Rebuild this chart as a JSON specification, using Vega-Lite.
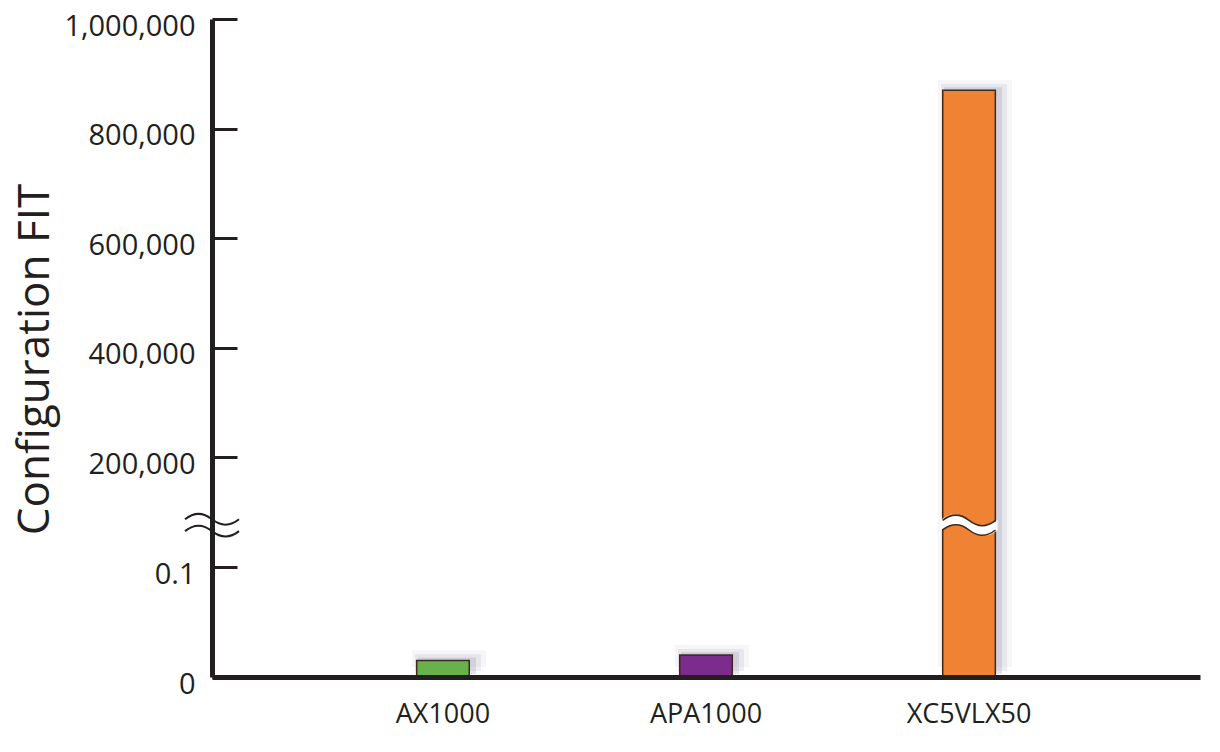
{
  "$schema": "https://vega.github.io/schema/vega-lite/v6.json",
  "width": 988,
  "height": 658,
  "autosize": {"type": "none"},
  "padding": {"left": 212, "top": 19, "right": 20, "bottom": 75},
  "background": "white",
  "config": {"view": {"stroke": null}, "font": "Open Sans"},
  "datasets": {
    "bars": [
      {"device": "AX1000", "fit": 0.015},
      {"device": "APA1000", "fit": 0.02},
      {"device": "XC5VLX50", "fit": 870000}
    ],
    "barbreak": [{"device": "XC5VLX50", "fit": 76000}],
    "axisbreak": [{"fit": 76000}]
  },
  "data": {"name": "bars"},
  "encoding": {
    "x": {
      "field": "device", "type": "nominal", "sort": null,
      "scale": {"paddingInner": 0.8, "paddingOuter": 0.778},
      "axis": {
        "title": null, "ticks": false, "labelAngle": 0, "labelFontSize": 27,
        "labelColor": "#231f20", "labelPadding": 24, "domainColor": "#231f20",
        "domainWidth": 5, "zindex": 1, "labelFont": "Open Sans"
      }
    },
    "y": {
      "field": "fit", "type": "quantitative",
      "scale": {"domain": [0, 0.1, 200000, 1000000], "range": [658, 548, 438, 0], "nice": false, "zero": false},
      "title": "Configuration FIT",
      "axis": {
        "values": [0, 0.1, 200000, 400000, 600000, 800000, 1000000],
        "labelExpr": "datum.value == 0.1 ? '0.1' : format(datum.value, ',d')",
        "grid": false,
        "tickSize": -25, "tickWidth": 3, "tickColor": "#231f20",
        "domainWidth": 5, "domainColor": "#231f20",
        "labelFontSize": 29, "labelColor": "#231f20", "labelPadding": 42, "labelOffset": 7,
        "labelFlush": false, "labelOverlap": false, "labelFont": "Open Sans",
        "titleFontSize": 44, "titleFontWeight": "normal", "titleColor": "#231f20", "titleFont": "Open Sans",
        "titleX": -164, "titleY": 340, "titleAngle": -90, "titleAlign": "center", "titleBaseline": "alphabetic",
        "zindex": 0
      }
    }
  },
  "layer": [
    {"mark": {"type": "bar", "size": 74, "color": "#8a8aa6", "opacity": 0.08, "xOffset": 6, "yOffset": -10}},
    {"mark": {"type": "bar", "size": 66, "color": "#8a8aa6", "opacity": 0.14, "xOffset": 5, "yOffset": -6}},
    {"mark": {"type": "bar", "size": 58, "color": "#8a8aa6", "opacity": 0.22, "xOffset": 4, "yOffset": -3}},
    {
      "mark": {"type": "bar", "stroke": "#3b2a1e", "strokeWidth": 1.5},
      "encoding": {
        "color": {
          "field": "device", "type": "nominal", "legend": null,
          "scale": {"domain": ["AX1000", "APA1000", "XC5VLX50"], "range": ["#68b24c", "#7b2c8c", "#f08333"]}
        }
      }
    },
    {
      "data": {"name": "barbreak"},
      "mark": {"type": "point", "filled": true, "fill": "white", "strokeWidth": 0, "opacity": 1, "size": 3249,
        "shape": "M -1 -0.18 Q -0.5 -0.58 0 -0.18 Q 0.5 0.22 1 -0.18 L 1 0.18 Q 0.5 0.58 0 0.18 Q -0.5 -0.22 -1 0.18 Z"}
    },
    {
      "data": {"name": "barbreak"},
      "mark": {"type": "point", "filled": false, "stroke": "#3b2a1e", "strokeWidth": 1.5, "opacity": 1, "size": 2809,
        "shape": "M -1 -0.18 Q -0.5 -0.58 0 -0.18 Q 0.5 0.22 1 -0.18 M -1 0.18 Q -0.5 -0.22 0 0.18 Q 0.5 0.58 1 0.18"}
    },
    {
      "data": {"name": "axisbreak"},
      "mark": {"type": "point", "filled": false, "stroke": "#231f20", "strokeWidth": 2, "opacity": 1, "size": 2916,
        "shape": "M -1 -0.22 Q -0.5 -0.62 0 -0.22 Q 0.5 0.18 1 -0.22 M -1 0.22 Q -0.5 -0.18 0 0.22 Q 0.5 0.62 1 0.22"},
      "encoding": {"x": {"value": 0}}
    }
  ]
}
